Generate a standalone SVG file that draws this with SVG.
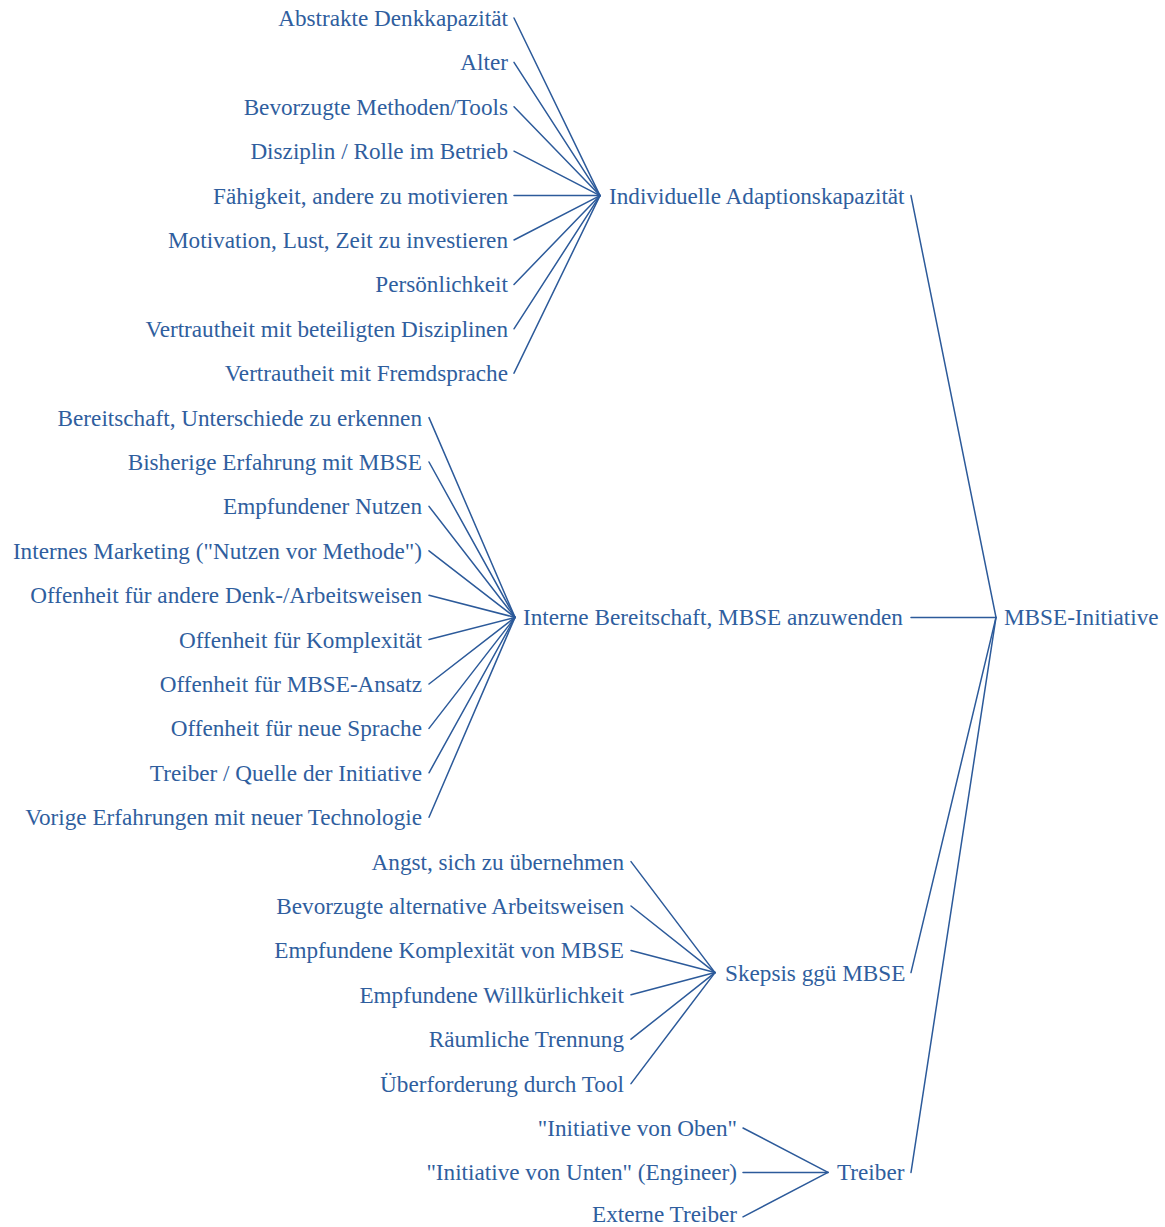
<svg xmlns="http://www.w3.org/2000/svg" width="1165" height="1227" viewBox="0 0 1165 1227">
  <style>
    text { font-family: "Liberation Serif", "Times New Roman", serif; font-size: 23.2px; fill: #2f5e9e; }
    .leaf { text-anchor: end; }
    .mid, .root { text-anchor: start; }
    #edges line { stroke: #2c5a9a; stroke-width: 1.5; fill: none; stroke-linecap: round; }
  </style>
  <rect width="1165" height="1227" fill="#ffffff"/>

  <!-- connectors: leaf -> branch hub, branch -> root -->
  <g id="edges">
    <!-- Individuelle Adaptionskapazität (hub 600,195.6) -->
    <line x1="514" y1="18" x2="600" y2="195.6"/>
    <line x1="514" y1="62.4" x2="600" y2="195.6"/>
    <line x1="514" y1="106.8" x2="600" y2="195.6"/>
    <line x1="514" y1="151.2" x2="600" y2="195.6"/>
    <line x1="514" y1="195.6" x2="600" y2="195.6"/>
    <line x1="514" y1="240" x2="600" y2="195.6"/>
    <line x1="514" y1="284.4" x2="600" y2="195.6"/>
    <line x1="514" y1="328.8" x2="600" y2="195.6"/>
    <line x1="514" y1="373.2" x2="600" y2="195.6"/>
    <!-- Interne Bereitschaft (hub 515,617.4) -->
    <line x1="429" y1="417.6" x2="515" y2="617.4"/>
    <line x1="429" y1="462" x2="515" y2="617.4"/>
    <line x1="429" y1="506.4" x2="515" y2="617.4"/>
    <line x1="429" y1="550.8" x2="515" y2="617.4"/>
    <line x1="429" y1="595.2" x2="515" y2="617.4"/>
    <line x1="429" y1="639.6" x2="515" y2="617.4"/>
    <line x1="429" y1="684" x2="515" y2="617.4"/>
    <line x1="429" y1="728.4" x2="515" y2="617.4"/>
    <line x1="429" y1="772.8" x2="515" y2="617.4"/>
    <line x1="429" y1="817.2" x2="515" y2="617.4"/>
    <!-- Skepsis (hub 715,972.6) -->
    <line x1="631" y1="861.6" x2="715" y2="972.6"/>
    <line x1="631" y1="906" x2="715" y2="972.6"/>
    <line x1="631" y1="950.4" x2="715" y2="972.6"/>
    <line x1="631" y1="994.8" x2="715" y2="972.6"/>
    <line x1="631" y1="1039.2" x2="715" y2="972.6"/>
    <line x1="631" y1="1083.6" x2="715" y2="972.6"/>
    <!-- Treiber (hub 828,1172.4) -->
    <line x1="743" y1="1128" x2="828" y2="1172.4"/>
    <line x1="743" y1="1172.4" x2="828" y2="1172.4"/>
    <line x1="743" y1="1216.8" x2="828" y2="1172.4"/>
    <!-- branches -> MBSE-Initiative (996,617.4) -->
    <line x1="911" y1="195.6" x2="996" y2="617.4"/>
    <line x1="911" y1="617.4" x2="996" y2="617.4"/>
    <line x1="911" y1="972.6" x2="996" y2="617.4"/>
    <line x1="911" y1="1172.4" x2="996" y2="617.4"/>
  </g>

  <!-- root -->
  <g id="n-root"><text class="root" x="1004" y="625.4">MBSE-Initiative</text></g>

  <!-- branches -->
  <g id="n-individuell"><text class="mid" x="609" y="203.6">Individuelle Adaptionskapazität</text></g>
  <g id="n-intern"><text class="mid" x="523" y="625.4">Interne Bereitschaft, MBSE anzuwenden</text></g>
  <g id="n-skepsis"><text class="mid" x="725" y="980.6">Skepsis ggü MBSE</text></g>
  <g id="n-treiber"><text class="mid" x="837" y="1180.4">Treiber</text></g>

  <!-- leaves: Individuelle Adaptionskapazität -->
  <g id="n-abstrakt"><text class="leaf" x="508" y="26">Abstrakte Denkkapazität</text></g>
  <g id="n-alter"><text class="leaf" x="508" y="70.4">Alter</text></g>
  <g id="n-methoden"><text class="leaf" x="508" y="114.8">Bevorzugte Methoden/Tools</text></g>
  <g id="n-disziplin"><text class="leaf" x="508" y="159.2">Disziplin / Rolle im Betrieb</text></g>
  <g id="n-motivieren"><text class="leaf" x="508" y="203.6">Fähigkeit, andere zu motivieren</text></g>
  <g id="n-motivation"><text class="leaf" x="508" y="248">Motivation, Lust, Zeit zu investieren</text></g>
  <g id="n-persoenlichkeit"><text class="leaf" x="508" y="292.4">Persönlichkeit</text></g>
  <g id="n-disziplinen"><text class="leaf" x="508" y="336.8">Vertrautheit mit beteiligten Disziplinen</text></g>
  <g id="n-fremdsprache"><text class="leaf" x="508" y="381.2">Vertrautheit mit Fremdsprache</text></g>

  <!-- leaves: Interne Bereitschaft -->
  <g id="n-unterschiede"><text class="leaf" x="422" y="425.6">Bereitschaft, Unterschiede zu erkennen</text></g>
  <g id="n-erfahrung"><text class="leaf" x="422" y="470">Bisherige Erfahrung mit MBSE</text></g>
  <g id="n-nutzen"><text class="leaf" x="422" y="514.4">Empfundener Nutzen</text></g>
  <g id="n-marketing"><text class="leaf" x="422" y="558.8">Internes Marketing ("Nutzen vor Methode")</text></g>
  <g id="n-denkweisen"><text class="leaf" x="422" y="603.2">Offenheit für andere Denk-/Arbeitsweisen</text></g>
  <g id="n-komplexitaet"><text class="leaf" x="422" y="647.6">Offenheit für Komplexität</text></g>
  <g id="n-ansatz"><text class="leaf" x="422" y="692">Offenheit für MBSE-Ansatz</text></g>
  <g id="n-sprache"><text class="leaf" x="422" y="736.4">Offenheit für neue Sprache</text></g>
  <g id="n-quelle"><text class="leaf" x="422" y="780.8">Treiber / Quelle der Initiative</text></g>
  <g id="n-technologie"><text class="leaf" x="422" y="825.2">Vorige Erfahrungen mit neuer Technologie</text></g>

  <!-- leaves: Skepsis -->
  <g id="n-angst"><text class="leaf" x="624" y="869.6">Angst, sich zu übernehmen</text></g>
  <g id="n-alternativ"><text class="leaf" x="624" y="914">Bevorzugte alternative Arbeitsweisen</text></g>
  <g id="n-empf-komplex"><text class="leaf" x="624" y="958.4">Empfundene Komplexität von MBSE</text></g>
  <g id="n-willkuer"><text class="leaf" x="624" y="1002.8">Empfundene Willkürlichkeit</text></g>
  <g id="n-trennung"><text class="leaf" x="624" y="1047.2">Räumliche Trennung</text></g>
  <g id="n-tool"><text class="leaf" x="624" y="1091.6">Überforderung durch Tool</text></g>

  <!-- leaves: Treiber -->
  <g id="n-oben"><text class="leaf" x="737" y="1136">"Initiative von Oben"</text></g>
  <g id="n-unten"><text class="leaf" x="737" y="1180.4">"Initiative von Unten" (Engineer)</text></g>
  <g id="n-extern"><text class="leaf" x="737" y="1222">Externe Treiber</text></g>
</svg>
